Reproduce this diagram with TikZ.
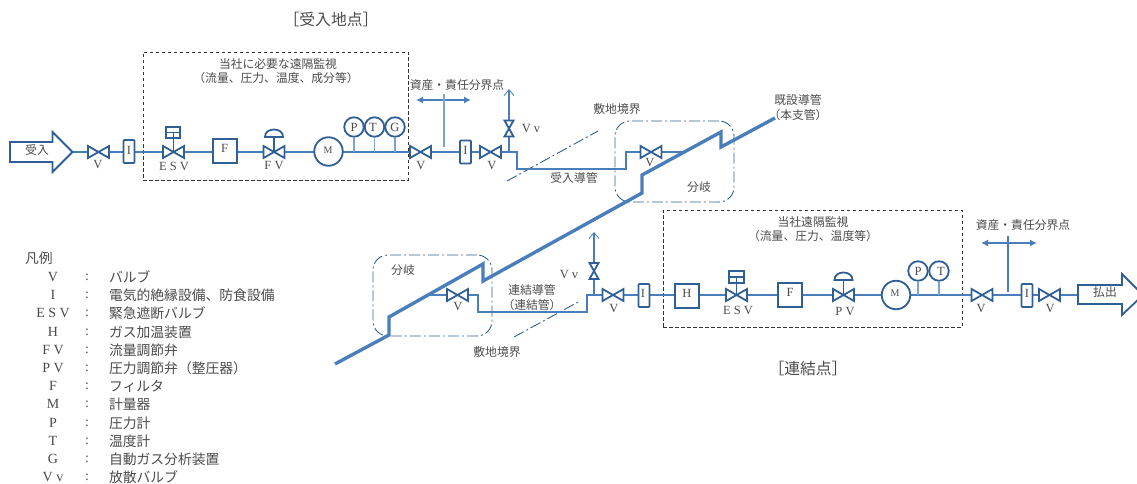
\documentclass[tikz,border=0pt]{standalone}
\usepackage{fontspec}
\setmainfont{Liberation Serif}
\newfontfamily\cjk{Noto Sans CJK JP}
\usetikzlibrary{arrows.meta}
\definecolor{symb}{HTML}{2F5F94}
\definecolor{pipe}{HTML}{4A7EBB}
\definecolor{thinline}{HTML}{7BA3D3}
\definecolor{ink}{HTML}{4A4A4A}
\tikzset{
  every node/.style={inner sep=0pt,outer sep=0pt,text=ink},
  lbl/.style={font=\fontsize{12.5}{14}\selectfont},
  leglbl/.style={font=\fontsize{14}{16}\selectfont},
  jp/.style={font=\fontsize{11.8}{14}\selectfont\cjk},
  legjp/.style={font=\fontsize{13.8}{16}\selectfont\cjk},
  title/.style={font=\fontsize{15.8}{18}\selectfont\cjk},
  small/.style={font=\fontsize{10}{11}\selectfont},
  symline/.style={draw=symb,line width=1.8pt,line join=miter},
  equip/.style={symline,fill=white,minimum width=24pt,minimum height=24pt},
  ibox/.style={symline,fill=white,rounded corners=.8pt,minimum width=11pt,minimum height=23pt},
  meter/.style={symline,circle,fill=white,minimum size=28.5pt},
  gauge/.style={symline,circle,fill=white,minimum size=19.5pt},
  anch/.style={minimum width=21pt,minimum height=12pt},
  vanch/.style={minimum width=10pt,minimum height=16pt},
  pipeline/.style={draw=pipe,line width=2pt,line join=miter},
  main/.style={draw=pipe,line width=3.4pt,line join=miter},
  tap/.style={draw=thinline,line width=1.4pt},
  vent/.style={draw=pipe,line width=1.1pt,-{Straight Barb[length=6pt,width=10pt,line width=.8pt]}},
  limit/.style={draw=black!80,line width=.9pt,dash pattern=on 3.5pt off 2.5pt},
  bound/.style={draw=symb,line width=.9pt,dash pattern=on 11pt off 3pt on 2pt off 3pt},
  share/.style={draw=pipe,line width=1.2pt},
  sharearrow/.style={draw=pipe,line width=1.2pt,{Latex[length=7pt,width=7pt]}-{Latex[length=7pt,width=7pt]}},
}
\newcommand{\hvalve}[3]{%
  \node[anch] (#1) at (#2,#3) {};
  \draw[symline,fill=white] (#2-10.5,#3-6) -- (#2+10.5,#3+6) -- (#2+10.5,#3-6) -- (#2-10.5,#3+6) -- cycle;}
\newcommand{\vvalve}[3]{%
  \node[vanch] (#1) at (#2,#3) {};
  \draw[symline,fill=white] (#2-4.5,#3-8) -- (#2+4.5,#3+8) -- (#2-4.5,#3+8) -- (#2+4.5,#3-8) -- cycle;}
\newcommand{\lab}[4]{\node[#1] (#2) at #3 {#4};}
\begin{document}
\begin{tikzpicture}[x=1pt,y=-1pt]
\useasboundingbox (0,0) rectangle (1137,484);
% limits
\node[limit,draw,minimum width=265pt,minimum height=128pt] (boxA) at (275.5,116) {};
\node[limit,draw,minimum width=299pt,minimum height=117pt] (boxB) at (812.5,268.5) {};
\node[bound,draw,rounded corners=15pt,minimum width=119pt,minimum height=81pt] (branchA) at (674.5,161.5) {};
\node[bound,draw,rounded corners=15pt,minimum width=119pt,minimum height=81pt] (branchB) at (432.5,295.5) {};
% site boundaries
\coordinate (bAs) at (507,181); \coordinate (bAe) at (598,131);
\coordinate (bBs) at (514,337); \coordinate (bBe) at (580,301);
\draw[bound] (bAs) -- (bAe);
\draw[bound] (bBs) -- (bBe);
% main pipe
\coordinate (p0) at (775,118); \coordinate (p1) at (721,147); \coordinate (p2) at (721,132);
\coordinate (p3) at (642,175); \coordinate (p4) at (642,193); \coordinate (p5) at (483,281);
\coordinate (p6) at (483,264); \coordinate (p7) at (389,317); \coordinate (p8) at (389,335);
\coordinate (p9) at (335,364);
\coordinate (tapA) at (684,152); \coordinate (tapB) at (428,295);
% upper line
\coordinate (jA) at (509,152); \coordinate (a1) at (517,152); \coordinate (a2) at (517,169);
\coordinate (a3) at (626,169); \coordinate (a4) at (626,152);
\draw[pipeline] (72,152) coordinate (inTip) -- (462,152) -- (a1) -- (a2) -- (a3) -- (a4) -- (tapA);
% lower line
\coordinate (jB) at (594,295); \coordinate (b1) at (478,295); \coordinate (b2) at (478,312);
\coordinate (b3) at (587,312); \coordinate (b4) at (587,295);
\draw[pipeline] (tapB) -- (b1) -- (b2) -- (b3) -- (b4) -- (1078,295) coordinate (outTail);
\draw[main] (p0) -- (p1) -- (p2) -- (p3) -- (p4) -- (p5) -- (p6) -- (p7) -- (p8) -- (p9);
% in and out arrows
\draw[symline,fill=white] (10,142) -- (52.5,142) -- (52.5,132) -- (72.5,152) -- (52.5,172) -- (52.5,162) -- (10,162) -- cycle;
\draw[symline,fill=white] (1078,285) -- (1122,285) -- (1122,274) -- (1143,295) -- (1122,315) -- (1122,304) -- (1078,304) -- cycle;
% upper equipment
\hvalve{vA1}{98.5}{152}
\node[ibox] (iA1) at (129,151.5) {};
% ESV A
\draw[symline] (173.5,132) -- (173.5,152);
\node[symline,draw,minimum width=14.5pt,minimum height=11.5pt] (actA) at (173,132.5) {};
\draw[symline] (actA.west) -- (actA.east);
\hvalve{esvA}{173.5}{152}
\node[equip] (fA) at (225,151) {};
\draw[symline] (274,136) -- (274,152);
\draw[symline,fill=white] (265,137) -- (283,137) .. controls (283.5,127) and (264.5,127) .. (265,137) -- cycle;
\hvalve{fvA}{274}{152}
\node[meter] (mA) at (328.5,151.5) {};
\node[gauge] (gP) at (354,127) {};
\node[gauge] (gT) at (374.5,127) {};
\node[gauge] (gG) at (395,127) {};
\draw[tap] (gP.south) -- (gP.south |- 0,152);
\draw[tap] (gT.south) -- (gT.south |- 0,152);
\draw[tap] (gG.south) -- (gG.south |- 0,152);
\hvalve{vA2}{420.5}{152}
\node[ibox] (iA2) at (465.5,152) {};
\hvalve{vA3}{490.5}{152}
\draw[pipeline] (jA) -- (509,130);
\coordinate (ventA) at (509,89);
\draw[vent] (509,125) -- (ventA);
\vvalve{vvA}{509}{128.5}
\hvalve{vA4}{651}{152}
% upper demarcation
\coordinate (sA1) at (416,100); \coordinate (sA2) at (471,100);
\draw[sharearrow] (sA1) -- (sA2);
\draw[share,draw=thinline] (444,94) coordinate (sA3) -- (444,147) coordinate (sA4);
% lower equipment
\hvalve{vB1}{457.5}{295}
\draw[pipeline] (jB) -- (594,275);
\coordinate (ventB) at (594,232);
\draw[vent] (594,268) -- (ventB);
\vvalve{vvB}{594}{271}
\hvalve{vB2}{613}{295}
\node[ibox] (iB1) at (644,295.5) {};
\node[equip] (hB) at (687,296) {};
\draw[symline] (736.5,277) -- (736.5,295);
\node[symline,draw,minimum width=14.5pt,minimum height=11.5pt] (actB) at (736.5,277) {};
\draw[symline] (actB.west) -- (actB.east);
\hvalve{esvB}{736.5}{295}
\node[equip] (fB) at (790,295) {};
\draw[symline] (843.5,279) -- (843.5,295);
\draw[symline,fill=white] (834.5,280) -- (852.5,280) .. controls (853,270) and (834,270) .. (834.5,280) -- cycle;
\hvalve{pvB}{843.5}{295}
\node[meter] (mB) at (896,295) {};
\node[gauge] (gP2) at (918,271) {};
\node[gauge] (gT2) at (939,271) {};
\draw[tap] (gP2.south) -- (gP2.south |- 0,295);
\draw[tap] (gT2.south) -- (gT2.south |- 0,295);
\hvalve{vB3}{982}{295}
\node[ibox] (iB2) at (1027,295.5) {};
\hvalve{vB4}{1049.5}{295}
\coordinate (sB1) at (981,243); \coordinate (sB2) at (1037,243);
\draw[sharearrow] (sB1) -- (sB2);
\draw[share] (1008,236) coordinate (sB3) -- (1008,292) coordinate (sB4);
% titles
\lab{title}{tA}{(331,19)}{［受入地点］}
\lab{title}{tB}{(808,368)}{［連結点］}
\lab{jp}{nA1}{(278,64)}{当社に必要な遠隔監視}
\lab{jp}{nA2}{(276,78)}{（流量、圧力、温度、成分等）}
\lab{jp}{nB1}{(813,222)}{当社遠隔監視}
\lab{jp}{nB2}{(813,236)}{（流量、圧力、温度等）}
\lab{jp}{sAt}{(457,85)}{資産・責任分界点}
\lab{jp}{sBt}{(1023,225)}{資産・責任分界点}
\lab{jp}{in}{(37,150)}{受入}
\lab{jp}{out}{(1105,292)}{払出}
\lab{jp}{sit1}{(617,109)}{敷地境界}
\lab{jp}{sit2}{(497,352)}{敷地境界}
\lab{jp}{pa}{(574,178)}{受入導管}
\lab{jp}{pb1}{(532,290)}{連結導管}
\lab{jp}{pb2}{(532,305)}{（連結管）}
\lab{jp}{ex1}{(798,100)}{既設導管}
\lab{jp}{ex2}{(798,115)}{（本支管）}
\lab{jp}{br1}{(699,187)}{分岐}
\lab{jp}{br2}{(403,270)}{分岐}
% symbol labels
\lab{lbl}{l1}{(98,165)}{V}
\lab{lbl}{l2}{(129,150)}{I}
\lab{lbl}{l3}{(174,166)}{E S V}
\lab{lbl}{l4}{(224.5,148)}{F}
\lab{lbl}{l5}{(274,166)}{F V}
\lab{small}{l6}{(328,150)}{M}
\lab{lbl}{l7}{(354,127)}{P}
\lab{lbl}{l8}{(373,127)}{T}
\lab{lbl}{l9}{(395,127)}{G}
\lab{lbl}{l10}{(421,166)}{V}
\lab{lbl}{l11}{(492,166)}{V}
\lab{lbl}{l12}{(531,129)}{V v}
\lab{lbl}{l13}{(650,163)}{V}
\lab{lbl}{l14}{(458,306)}{V}
\lab{lbl}{l15}{(569,274)}{V v}
\lab{lbl}{l16}{(614,308)}{V}
\lab{lbl}{l17}{(643,293)}{I}
\lab{lbl}{l18}{(687,293)}{H}
\lab{lbl}{l19}{(738,310)}{E S V}
\lab{lbl}{l20}{(790,292)}{F}
\lab{lbl}{l21}{(845,311)}{P V}
\lab{small}{l22}{(895,293)}{M}
\lab{lbl}{l23}{(918,271)}{P}
\lab{lbl}{l24}{(941,271)}{T}
\lab{lbl}{l25}{(981,308)}{V}
\lab{lbl}{l26}{(1027,293)}{I}
\lab{lbl}{l27}{(1050,309)}{V}
\lab{lbl}{l28}{(465.5,150)}{I}
% legend
\node[legjp,anchor=west] (legT) at (25,258) {凡例};
\foreach \i/\yy/\s/\d in {
 1/277/V/バルブ,
 2/295/I/電気的絶縁設備、防食設備,
 3/313/E S V/緊急遮断バルブ,
 4/332/H/ガス加温装置,
 5/350/F V/流量調節弁,
 6/368/P V/圧力調節弁（整圧器）,
 7/386/F/フィルタ,
 8/404/M/計量器,
 9/423/P/圧力計,
 10/441/T/温度計,
 11/459/G/自動ガス分析装置,
 12/477/V v/放散バルブ}{
  \node[leglbl] (legS\i) at (53,\yy) {\s};
  \node[leglbl] (legC\i) at (87,\yy) {:};
  \node[legjp,anchor=west] (legD\i) at (109,\yy) {\d};
}
\end{tikzpicture}
\end{document}
